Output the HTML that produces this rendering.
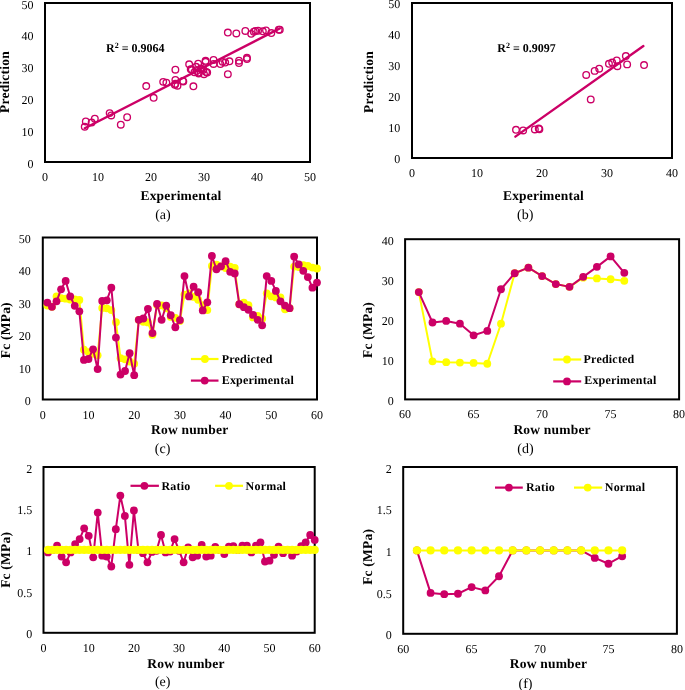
<!DOCTYPE html>
<html><head><meta charset="utf-8"><style>
html,body{margin:0;padding:0;background:#fff;}
body{width:685px;height:690px;overflow:hidden;}
svg{display:block;will-change:transform;}
text{font-family:'Liberation Serif', serif;fill:#000;text-rendering:geometricPrecision;}
.t{font-size:12px;}
.ax{font-size:13.5px;font-weight:bold;letter-spacing:0.2px;}
.lg{font-size:12px;font-weight:bold;letter-spacing:0.2px;}
.r2{font-size:12px;font-weight:bold;}
.sup{font-size:8px;}
.fl{font-size:14px;}
</style></head><body>
<svg width="685" height="690" viewBox="0 0 685 690">
<g>
<rect width="685" height="690" fill="#fff"/>
<rect x="45.00" y="3.00" width="265.00" height="159.00" fill="none" stroke="#000" stroke-width="2"/>
<circle cx="203.47" cy="69.77" r="3.3" fill="none" stroke="#CC0066" stroke-width="1.35"/>
<circle cx="196.58" cy="71.05" r="3.3" fill="none" stroke="#CC0066" stroke-width="1.35"/>
<circle cx="205.59" cy="60.83" r="3.3" fill="none" stroke="#CC0066" stroke-width="1.35"/>
<circle cx="225.20" cy="62.53" r="3.3" fill="none" stroke="#CC0066" stroke-width="1.35"/>
<circle cx="238.98" cy="63.07" r="3.3" fill="none" stroke="#CC0066" stroke-width="1.35"/>
<circle cx="213.54" cy="63.91" r="3.3" fill="none" stroke="#CC0066" stroke-width="1.35"/>
<circle cx="198.17" cy="63.66" r="3.3" fill="none" stroke="#CC0066" stroke-width="1.35"/>
<circle cx="189.16" cy="64.26" r="3.3" fill="none" stroke="#CC0066" stroke-width="1.35"/>
<circle cx="109.66" cy="113.12" r="3.3" fill="none" stroke="#CC0066" stroke-width="1.35"/>
<circle cx="111.25" cy="115.49" r="3.3" fill="none" stroke="#CC0066" stroke-width="1.35"/>
<circle cx="127.15" cy="117.15" r="3.3" fill="none" stroke="#CC0066" stroke-width="1.35"/>
<circle cx="94.82" cy="118.66" r="3.3" fill="none" stroke="#CC0066" stroke-width="1.35"/>
<circle cx="206.12" cy="72.10" r="3.3" fill="none" stroke="#CC0066" stroke-width="1.35"/>
<circle cx="207.18" cy="72.48" r="3.3" fill="none" stroke="#CC0066" stroke-width="1.35"/>
<circle cx="227.85" cy="74.23" r="3.3" fill="none" stroke="#CC0066" stroke-width="1.35"/>
<circle cx="146.23" cy="86.08" r="3.3" fill="none" stroke="#CC0066" stroke-width="1.35"/>
<circle cx="85.81" cy="121.48" r="3.3" fill="none" stroke="#CC0066" stroke-width="1.35"/>
<circle cx="91.64" cy="122.54" r="3.3" fill="none" stroke="#CC0066" stroke-width="1.35"/>
<circle cx="120.79" cy="124.71" r="3.3" fill="none" stroke="#CC0066" stroke-width="1.35"/>
<circle cx="84.75" cy="126.82" r="3.3" fill="none" stroke="#CC0066" stroke-width="1.35"/>
<circle cx="175.38" cy="83.77" r="3.3" fill="none" stroke="#CC0066" stroke-width="1.35"/>
<circle cx="177.50" cy="85.68" r="3.3" fill="none" stroke="#CC0066" stroke-width="1.35"/>
<circle cx="193.40" cy="86.32" r="3.3" fill="none" stroke="#CC0066" stroke-width="1.35"/>
<circle cx="153.65" cy="97.76" r="3.3" fill="none" stroke="#CC0066" stroke-width="1.35"/>
<circle cx="201.35" cy="69.13" r="3.3" fill="none" stroke="#CC0066" stroke-width="1.35"/>
<circle cx="175.38" cy="69.69" r="3.3" fill="none" stroke="#CC0066" stroke-width="1.35"/>
<circle cx="198.70" cy="72.55" r="3.3" fill="none" stroke="#CC0066" stroke-width="1.35"/>
<circle cx="182.80" cy="80.97" r="3.3" fill="none" stroke="#CC0066" stroke-width="1.35"/>
<circle cx="163.19" cy="81.87" r="3.3" fill="none" stroke="#CC0066" stroke-width="1.35"/>
<circle cx="174.85" cy="84.87" r="3.3" fill="none" stroke="#CC0066" stroke-width="1.35"/>
<circle cx="246.93" cy="59.02" r="3.3" fill="none" stroke="#CC0066" stroke-width="1.35"/>
<circle cx="213.54" cy="59.92" r="3.3" fill="none" stroke="#CC0066" stroke-width="1.35"/>
<circle cx="229.44" cy="61.30" r="3.3" fill="none" stroke="#CC0066" stroke-width="1.35"/>
<circle cx="220.43" cy="64.11" r="3.3" fill="none" stroke="#CC0066" stroke-width="1.35"/>
<circle cx="190.75" cy="69.30" r="3.3" fill="none" stroke="#CC0066" stroke-width="1.35"/>
<circle cx="204.00" cy="74.23" r="3.3" fill="none" stroke="#CC0066" stroke-width="1.35"/>
<circle cx="279.79" cy="29.71" r="3.3" fill="none" stroke="#CC0066" stroke-width="1.35"/>
<circle cx="258.06" cy="30.67" r="3.3" fill="none" stroke="#CC0066" stroke-width="1.35"/>
<circle cx="262.83" cy="31.30" r="3.3" fill="none" stroke="#CC0066" stroke-width="1.35"/>
<circle cx="271.31" cy="33.00" r="3.3" fill="none" stroke="#CC0066" stroke-width="1.35"/>
<circle cx="253.82" cy="31.70" r="3.3" fill="none" stroke="#CC0066" stroke-width="1.35"/>
<circle cx="251.17" cy="33.85" r="3.3" fill="none" stroke="#CC0066" stroke-width="1.35"/>
<circle cx="200.82" cy="68.51" r="3.3" fill="none" stroke="#CC0066" stroke-width="1.35"/>
<circle cx="196.05" cy="66.84" r="3.3" fill="none" stroke="#CC0066" stroke-width="1.35"/>
<circle cx="191.81" cy="69.51" r="3.3" fill="none" stroke="#CC0066" stroke-width="1.35"/>
<circle cx="183.33" cy="81.49" r="3.3" fill="none" stroke="#CC0066" stroke-width="1.35"/>
<circle cx="175.38" cy="79.86" r="3.3" fill="none" stroke="#CC0066" stroke-width="1.35"/>
<circle cx="166.37" cy="82.62" r="3.3" fill="none" stroke="#CC0066" stroke-width="1.35"/>
<circle cx="246.93" cy="57.80" r="3.3" fill="none" stroke="#CC0066" stroke-width="1.35"/>
<circle cx="238.98" cy="60.74" r="3.3" fill="none" stroke="#CC0066" stroke-width="1.35"/>
<circle cx="222.55" cy="61.86" r="3.3" fill="none" stroke="#CC0066" stroke-width="1.35"/>
<circle cx="205.59" cy="61.79" r="3.3" fill="none" stroke="#CC0066" stroke-width="1.35"/>
<circle cx="198.70" cy="73.47" r="3.3" fill="none" stroke="#CC0066" stroke-width="1.35"/>
<circle cx="194.46" cy="72.32" r="3.3" fill="none" stroke="#CC0066" stroke-width="1.35"/>
<circle cx="278.73" cy="29.71" r="3.3" fill="none" stroke="#CC0066" stroke-width="1.35"/>
<circle cx="266.01" cy="30.35" r="3.3" fill="none" stroke="#CC0066" stroke-width="1.35"/>
<circle cx="255.41" cy="30.98" r="3.3" fill="none" stroke="#CC0066" stroke-width="1.35"/>
<circle cx="245.34" cy="30.98" r="3.3" fill="none" stroke="#CC0066" stroke-width="1.35"/>
<circle cx="227.85" cy="32.54" r="3.3" fill="none" stroke="#CC0066" stroke-width="1.35"/>
<circle cx="236.33" cy="33.43" r="3.3" fill="none" stroke="#CC0066" stroke-width="1.35"/>
<line x1="84.75" y1="128.29" x2="279.79" y2="28.44" stroke="#CC0066" stroke-width="2.4" stroke-linecap="round"/>
<text x="33.50" y="167.50" text-anchor="end" class="t">0</text>
<text x="33.50" y="135.70" text-anchor="end" class="t">10</text>
<text x="33.50" y="103.90" text-anchor="end" class="t">20</text>
<text x="33.50" y="72.10" text-anchor="end" class="t">30</text>
<text x="33.50" y="40.30" text-anchor="end" class="t">40</text>
<text x="33.50" y="8.50" text-anchor="end" class="t">50</text>
<text x="45.00" y="180.80" text-anchor="middle" class="t">0</text>
<text x="98.00" y="180.80" text-anchor="middle" class="t">10</text>
<text x="151.00" y="180.80" text-anchor="middle" class="t">20</text>
<text x="204.00" y="180.80" text-anchor="middle" class="t">30</text>
<text x="257.00" y="180.80" text-anchor="middle" class="t">40</text>
<text x="310.00" y="180.80" text-anchor="middle" class="t">50</text>
<text x="181.00" y="199.70" text-anchor="middle" class="ax">Experimental</text>
<text transform="translate(9.20,82.00) rotate(-90)" x="0" y="0" text-anchor="middle" class="ax">Prediction</text>
<text x="106.10" y="51.60" text-anchor="start" class="r2">R<tspan class="sup" dy="-3.8">2</tspan><tspan dy="3.8"> = 0.9064</tspan></text>
<text x="162.90" y="218.70" text-anchor="middle" class="fl">(a)</text>
<rect x="412.00" y="3.00" width="260.00" height="155.00" fill="none" stroke="#000" stroke-width="2"/>
<circle cx="586.20" cy="74.92" r="3.3" fill="none" stroke="#CC0066" stroke-width="1.35"/>
<circle cx="538.75" cy="128.55" r="3.3" fill="none" stroke="#CC0066" stroke-width="1.35"/>
<circle cx="539.40" cy="129.17" r="3.3" fill="none" stroke="#CC0066" stroke-width="1.35"/>
<circle cx="534.85" cy="129.48" r="3.3" fill="none" stroke="#CC0066" stroke-width="1.35"/>
<circle cx="516.00" cy="129.79" r="3.3" fill="none" stroke="#CC0066" stroke-width="1.35"/>
<circle cx="523.15" cy="130.41" r="3.3" fill="none" stroke="#CC0066" stroke-width="1.35"/>
<circle cx="590.75" cy="99.41" r="3.3" fill="none" stroke="#CC0066" stroke-width="1.35"/>
<circle cx="616.75" cy="60.35" r="3.3" fill="none" stroke="#CC0066" stroke-width="1.35"/>
<circle cx="625.85" cy="56.01" r="3.3" fill="none" stroke="#CC0066" stroke-width="1.35"/>
<circle cx="612.20" cy="62.52" r="3.3" fill="none" stroke="#CC0066" stroke-width="1.35"/>
<circle cx="599.20" cy="68.72" r="3.3" fill="none" stroke="#CC0066" stroke-width="1.35"/>
<circle cx="594.65" cy="70.89" r="3.3" fill="none" stroke="#CC0066" stroke-width="1.35"/>
<circle cx="608.95" cy="63.76" r="3.3" fill="none" stroke="#CC0066" stroke-width="1.35"/>
<circle cx="627.15" cy="64.38" r="3.3" fill="none" stroke="#CC0066" stroke-width="1.35"/>
<circle cx="644.05" cy="65.00" r="3.3" fill="none" stroke="#CC0066" stroke-width="1.35"/>
<circle cx="617.40" cy="66.24" r="3.3" fill="none" stroke="#CC0066" stroke-width="1.35"/>
<line x1="515.35" y1="136.61" x2="643.40" y2="46.09" stroke="#CC0066" stroke-width="2.4" stroke-linecap="round"/>
<text x="400.30" y="162.70" text-anchor="end" class="t">0</text>
<text x="400.30" y="131.70" text-anchor="end" class="t">10</text>
<text x="400.30" y="100.70" text-anchor="end" class="t">20</text>
<text x="400.30" y="69.70" text-anchor="end" class="t">30</text>
<text x="400.30" y="38.70" text-anchor="end" class="t">40</text>
<text x="400.30" y="7.70" text-anchor="end" class="t">50</text>
<text x="412.00" y="177.00" text-anchor="middle" class="t">0</text>
<text x="477.00" y="177.00" text-anchor="middle" class="t">10</text>
<text x="542.00" y="177.00" text-anchor="middle" class="t">20</text>
<text x="607.00" y="177.00" text-anchor="middle" class="t">30</text>
<text x="672.00" y="177.00" text-anchor="middle" class="t">40</text>
<text x="543.50" y="199.60" text-anchor="middle" class="ax">Experimental</text>
<text transform="translate(373.20,82.00) rotate(-90)" x="0" y="0" text-anchor="middle" class="ax">Prediction</text>
<text x="497.30" y="51.60" text-anchor="start" class="r2">R<tspan class="sup" dy="-3.8">2</tspan><tspan dy="3.8"> = 0.9097</tspan></text>
<text x="525.20" y="218.80" text-anchor="middle" class="fl">(b)</text>
<rect x="42.80" y="237.50" width="274.20" height="162.00" fill="none" stroke="#000" stroke-width="2"/>
<polyline points="47.37,305.53 51.94,306.84 56.51,296.42 61.08,298.15 65.65,298.70 70.22,299.56 74.79,299.31 79.36,299.92 83.93,349.69 88.50,352.12 93.07,353.80 97.64,355.34 102.21,307.90 106.78,308.29 111.35,310.08 115.92,322.14 120.49,358.21 125.06,359.30 129.63,361.51 134.20,363.66 138.77,319.80 143.34,321.74 147.91,322.39 152.48,334.74 157.05,304.88 161.62,305.45 166.19,308.36 170.76,316.94 175.33,317.86 179.90,320.91 184.47,294.57 189.04,293.38 193.61,296.90 198.18,299.76 202.75,305.05 207.32,310.08 211.89,266.02 216.46,264.69 221.03,266.34 225.60,268.07 230.17,266.74 234.74,267.79 239.31,304.24 243.88,302.54 248.45,305.26 253.02,317.47 257.59,315.81 262.16,318.63 266.73,293.34 271.30,296.33 275.87,297.47 280.44,297.40 285.01,309.30 289.58,308.13 294.15,266.62 298.72,267.09 303.29,265.08 307.86,266.01 312.43,267.60 317.00,268.50" fill="none" stroke="#FFFF00" stroke-width="2" stroke-linejoin="round" stroke-linecap="round"/>
<circle cx="47.37" cy="305.53" r="3.9" fill="#FFFF00"/>
<circle cx="51.94" cy="306.84" r="3.9" fill="#FFFF00"/>
<circle cx="56.51" cy="296.42" r="3.9" fill="#FFFF00"/>
<circle cx="61.08" cy="298.15" r="3.9" fill="#FFFF00"/>
<circle cx="65.65" cy="298.70" r="3.9" fill="#FFFF00"/>
<circle cx="70.22" cy="299.56" r="3.9" fill="#FFFF00"/>
<circle cx="74.79" cy="299.31" r="3.9" fill="#FFFF00"/>
<circle cx="79.36" cy="299.92" r="3.9" fill="#FFFF00"/>
<circle cx="83.93" cy="349.69" r="3.9" fill="#FFFF00"/>
<circle cx="88.50" cy="352.12" r="3.9" fill="#FFFF00"/>
<circle cx="93.07" cy="353.80" r="3.9" fill="#FFFF00"/>
<circle cx="97.64" cy="355.34" r="3.9" fill="#FFFF00"/>
<circle cx="102.21" cy="307.90" r="3.9" fill="#FFFF00"/>
<circle cx="106.78" cy="308.29" r="3.9" fill="#FFFF00"/>
<circle cx="111.35" cy="310.08" r="3.9" fill="#FFFF00"/>
<circle cx="115.92" cy="322.14" r="3.9" fill="#FFFF00"/>
<circle cx="120.49" cy="358.21" r="3.9" fill="#FFFF00"/>
<circle cx="125.06" cy="359.30" r="3.9" fill="#FFFF00"/>
<circle cx="129.63" cy="361.51" r="3.9" fill="#FFFF00"/>
<circle cx="134.20" cy="363.66" r="3.9" fill="#FFFF00"/>
<circle cx="138.77" cy="319.80" r="3.9" fill="#FFFF00"/>
<circle cx="143.34" cy="321.74" r="3.9" fill="#FFFF00"/>
<circle cx="147.91" cy="322.39" r="3.9" fill="#FFFF00"/>
<circle cx="152.48" cy="334.74" r="3.9" fill="#FFFF00"/>
<circle cx="157.05" cy="304.88" r="3.9" fill="#FFFF00"/>
<circle cx="161.62" cy="305.45" r="3.9" fill="#FFFF00"/>
<circle cx="166.19" cy="308.36" r="3.9" fill="#FFFF00"/>
<circle cx="170.76" cy="316.94" r="3.9" fill="#FFFF00"/>
<circle cx="175.33" cy="317.86" r="3.9" fill="#FFFF00"/>
<circle cx="179.90" cy="320.91" r="3.9" fill="#FFFF00"/>
<circle cx="184.47" cy="294.57" r="3.9" fill="#FFFF00"/>
<circle cx="189.04" cy="293.38" r="3.9" fill="#FFFF00"/>
<circle cx="193.61" cy="296.90" r="3.9" fill="#FFFF00"/>
<circle cx="198.18" cy="299.76" r="3.9" fill="#FFFF00"/>
<circle cx="202.75" cy="305.05" r="3.9" fill="#FFFF00"/>
<circle cx="207.32" cy="310.08" r="3.9" fill="#FFFF00"/>
<circle cx="211.89" cy="266.02" r="3.9" fill="#FFFF00"/>
<circle cx="216.46" cy="264.69" r="3.9" fill="#FFFF00"/>
<circle cx="221.03" cy="266.34" r="3.9" fill="#FFFF00"/>
<circle cx="225.60" cy="268.07" r="3.9" fill="#FFFF00"/>
<circle cx="230.17" cy="266.74" r="3.9" fill="#FFFF00"/>
<circle cx="234.74" cy="267.79" r="3.9" fill="#FFFF00"/>
<circle cx="239.31" cy="304.24" r="3.9" fill="#FFFF00"/>
<circle cx="243.88" cy="302.54" r="3.9" fill="#FFFF00"/>
<circle cx="248.45" cy="305.26" r="3.9" fill="#FFFF00"/>
<circle cx="253.02" cy="317.47" r="3.9" fill="#FFFF00"/>
<circle cx="257.59" cy="315.81" r="3.9" fill="#FFFF00"/>
<circle cx="262.16" cy="318.63" r="3.9" fill="#FFFF00"/>
<circle cx="266.73" cy="293.34" r="3.9" fill="#FFFF00"/>
<circle cx="271.30" cy="296.33" r="3.9" fill="#FFFF00"/>
<circle cx="275.87" cy="297.47" r="3.9" fill="#FFFF00"/>
<circle cx="280.44" cy="297.40" r="3.9" fill="#FFFF00"/>
<circle cx="285.01" cy="309.30" r="3.9" fill="#FFFF00"/>
<circle cx="289.58" cy="308.13" r="3.9" fill="#FFFF00"/>
<circle cx="294.15" cy="266.62" r="3.9" fill="#FFFF00"/>
<circle cx="298.72" cy="267.09" r="3.9" fill="#FFFF00"/>
<circle cx="303.29" cy="265.08" r="3.9" fill="#FFFF00"/>
<circle cx="307.86" cy="266.01" r="3.9" fill="#FFFF00"/>
<circle cx="312.43" cy="267.60" r="3.9" fill="#FFFF00"/>
<circle cx="317.00" cy="268.50" r="3.9" fill="#FFFF00"/>
<polyline points="47.37,302.62 51.94,306.84 56.51,301.33 61.08,289.34 65.65,280.92 70.22,296.47 74.79,305.86 79.36,311.37 83.93,359.97 88.50,359.00 93.07,349.28 97.64,369.04 102.21,301.00 106.78,300.36 111.35,287.72 115.92,337.62 120.49,374.55 125.06,370.99 129.63,353.17 134.20,375.20 138.77,319.80 143.34,318.50 147.91,308.78 152.48,333.08 157.05,303.92 161.62,319.80 166.19,305.54 170.76,315.26 175.33,327.25 179.90,320.12 184.47,276.06 189.04,296.47 193.61,286.75 198.18,292.26 202.75,310.40 207.32,302.30 211.89,255.97 216.46,269.25 221.03,266.34 225.60,261.15 230.17,271.84 234.74,273.46 239.31,304.24 243.88,307.16 248.45,309.75 253.02,314.94 257.59,319.80 262.16,325.30 266.73,276.06 271.30,280.92 275.87,290.96 280.44,301.33 285.01,305.54 289.58,308.13 294.15,256.62 298.72,264.39 303.29,270.87 307.86,277.03 312.43,287.72 317.00,282.54" fill="none" stroke="#CC0066" stroke-width="2" stroke-linejoin="round" stroke-linecap="round"/>
<circle cx="47.37" cy="302.62" r="3.9" fill="#CC0066"/>
<circle cx="51.94" cy="306.84" r="3.9" fill="#CC0066"/>
<circle cx="56.51" cy="301.33" r="3.9" fill="#CC0066"/>
<circle cx="61.08" cy="289.34" r="3.9" fill="#CC0066"/>
<circle cx="65.65" cy="280.92" r="3.9" fill="#CC0066"/>
<circle cx="70.22" cy="296.47" r="3.9" fill="#CC0066"/>
<circle cx="74.79" cy="305.86" r="3.9" fill="#CC0066"/>
<circle cx="79.36" cy="311.37" r="3.9" fill="#CC0066"/>
<circle cx="83.93" cy="359.97" r="3.9" fill="#CC0066"/>
<circle cx="88.50" cy="359.00" r="3.9" fill="#CC0066"/>
<circle cx="93.07" cy="349.28" r="3.9" fill="#CC0066"/>
<circle cx="97.64" cy="369.04" r="3.9" fill="#CC0066"/>
<circle cx="102.21" cy="301.00" r="3.9" fill="#CC0066"/>
<circle cx="106.78" cy="300.36" r="3.9" fill="#CC0066"/>
<circle cx="111.35" cy="287.72" r="3.9" fill="#CC0066"/>
<circle cx="115.92" cy="337.62" r="3.9" fill="#CC0066"/>
<circle cx="120.49" cy="374.55" r="3.9" fill="#CC0066"/>
<circle cx="125.06" cy="370.99" r="3.9" fill="#CC0066"/>
<circle cx="129.63" cy="353.17" r="3.9" fill="#CC0066"/>
<circle cx="134.20" cy="375.20" r="3.9" fill="#CC0066"/>
<circle cx="138.77" cy="319.80" r="3.9" fill="#CC0066"/>
<circle cx="143.34" cy="318.50" r="3.9" fill="#CC0066"/>
<circle cx="147.91" cy="308.78" r="3.9" fill="#CC0066"/>
<circle cx="152.48" cy="333.08" r="3.9" fill="#CC0066"/>
<circle cx="157.05" cy="303.92" r="3.9" fill="#CC0066"/>
<circle cx="161.62" cy="319.80" r="3.9" fill="#CC0066"/>
<circle cx="166.19" cy="305.54" r="3.9" fill="#CC0066"/>
<circle cx="170.76" cy="315.26" r="3.9" fill="#CC0066"/>
<circle cx="175.33" cy="327.25" r="3.9" fill="#CC0066"/>
<circle cx="179.90" cy="320.12" r="3.9" fill="#CC0066"/>
<circle cx="184.47" cy="276.06" r="3.9" fill="#CC0066"/>
<circle cx="189.04" cy="296.47" r="3.9" fill="#CC0066"/>
<circle cx="193.61" cy="286.75" r="3.9" fill="#CC0066"/>
<circle cx="198.18" cy="292.26" r="3.9" fill="#CC0066"/>
<circle cx="202.75" cy="310.40" r="3.9" fill="#CC0066"/>
<circle cx="207.32" cy="302.30" r="3.9" fill="#CC0066"/>
<circle cx="211.89" cy="255.97" r="3.9" fill="#CC0066"/>
<circle cx="216.46" cy="269.25" r="3.9" fill="#CC0066"/>
<circle cx="221.03" cy="266.34" r="3.9" fill="#CC0066"/>
<circle cx="225.60" cy="261.15" r="3.9" fill="#CC0066"/>
<circle cx="230.17" cy="271.84" r="3.9" fill="#CC0066"/>
<circle cx="234.74" cy="273.46" r="3.9" fill="#CC0066"/>
<circle cx="239.31" cy="304.24" r="3.9" fill="#CC0066"/>
<circle cx="243.88" cy="307.16" r="3.9" fill="#CC0066"/>
<circle cx="248.45" cy="309.75" r="3.9" fill="#CC0066"/>
<circle cx="253.02" cy="314.94" r="3.9" fill="#CC0066"/>
<circle cx="257.59" cy="319.80" r="3.9" fill="#CC0066"/>
<circle cx="262.16" cy="325.30" r="3.9" fill="#CC0066"/>
<circle cx="266.73" cy="276.06" r="3.9" fill="#CC0066"/>
<circle cx="271.30" cy="280.92" r="3.9" fill="#CC0066"/>
<circle cx="275.87" cy="290.96" r="3.9" fill="#CC0066"/>
<circle cx="280.44" cy="301.33" r="3.9" fill="#CC0066"/>
<circle cx="285.01" cy="305.54" r="3.9" fill="#CC0066"/>
<circle cx="289.58" cy="308.13" r="3.9" fill="#CC0066"/>
<circle cx="294.15" cy="256.62" r="3.9" fill="#CC0066"/>
<circle cx="298.72" cy="264.39" r="3.9" fill="#CC0066"/>
<circle cx="303.29" cy="270.87" r="3.9" fill="#CC0066"/>
<circle cx="307.86" cy="277.03" r="3.9" fill="#CC0066"/>
<circle cx="312.43" cy="287.72" r="3.9" fill="#CC0066"/>
<circle cx="317.00" cy="282.54" r="3.9" fill="#CC0066"/>
<text x="30.80" y="405.00" text-anchor="end" class="t">0</text>
<text x="30.80" y="372.60" text-anchor="end" class="t">10</text>
<text x="30.80" y="340.20" text-anchor="end" class="t">20</text>
<text x="30.80" y="307.80" text-anchor="end" class="t">30</text>
<text x="30.80" y="275.40" text-anchor="end" class="t">40</text>
<text x="30.80" y="243.00" text-anchor="end" class="t">50</text>
<text x="42.80" y="418.50" text-anchor="middle" class="t">0</text>
<text x="88.50" y="418.50" text-anchor="middle" class="t">10</text>
<text x="134.20" y="418.50" text-anchor="middle" class="t">20</text>
<text x="179.90" y="418.50" text-anchor="middle" class="t">30</text>
<text x="225.60" y="418.50" text-anchor="middle" class="t">40</text>
<text x="271.30" y="418.50" text-anchor="middle" class="t">50</text>
<text x="317.00" y="418.50" text-anchor="middle" class="t">60</text>
<text x="189.70" y="433.90" text-anchor="middle" class="ax">Row number</text>
<text transform="translate(9.80,330.20) rotate(-90)" x="0" y="0" text-anchor="middle" class="ax">Fc (MPa)</text>
<text x="162.60" y="453.00" text-anchor="middle" class="fl">(c)</text>
<line x1="190.90" y1="359.00" x2="218.50" y2="359.00" stroke="#FFFF00" stroke-width="2.2" stroke-linecap="butt"/>
<circle cx="204.90" cy="359.00" r="3.9" fill="#FFFF00"/>
<text x="221.70" y="362.90" text-anchor="start" class="lg">Predicted</text>
<line x1="190.90" y1="380.60" x2="218.50" y2="380.60" stroke="#CC0066" stroke-width="2.2" stroke-linecap="butt"/>
<circle cx="204.70" cy="380.60" r="3.9" fill="#CC0066"/>
<text x="221.70" y="383.90" text-anchor="start" class="lg">Experimental</text>
<rect x="405.10" y="239.20" width="274.00" height="160.20" fill="none" stroke="#000" stroke-width="2"/>
<polyline points="418.80,292.07 432.50,361.35 446.20,362.15 459.90,362.55 473.60,362.95 487.30,363.76 501.00,323.71 514.70,273.24 528.40,267.64 542.10,276.05 555.80,284.06 569.50,286.86 583.20,277.65 596.90,278.45 610.60,279.25 624.30,280.85" fill="none" stroke="#FFFF00" stroke-width="2" stroke-linejoin="round" stroke-linecap="round"/>
<circle cx="418.80" cy="292.07" r="3.9" fill="#FFFF00"/>
<circle cx="432.50" cy="361.35" r="3.9" fill="#FFFF00"/>
<circle cx="446.20" cy="362.15" r="3.9" fill="#FFFF00"/>
<circle cx="459.90" cy="362.55" r="3.9" fill="#FFFF00"/>
<circle cx="473.60" cy="362.95" r="3.9" fill="#FFFF00"/>
<circle cx="487.30" cy="363.76" r="3.9" fill="#FFFF00"/>
<circle cx="501.00" cy="323.71" r="3.9" fill="#FFFF00"/>
<circle cx="514.70" cy="273.24" r="3.9" fill="#FFFF00"/>
<circle cx="528.40" cy="267.64" r="3.9" fill="#FFFF00"/>
<circle cx="542.10" cy="276.05" r="3.9" fill="#FFFF00"/>
<circle cx="555.80" cy="284.06" r="3.9" fill="#FFFF00"/>
<circle cx="569.50" cy="286.86" r="3.9" fill="#FFFF00"/>
<circle cx="583.20" cy="277.65" r="3.9" fill="#FFFF00"/>
<circle cx="596.90" cy="278.45" r="3.9" fill="#FFFF00"/>
<circle cx="610.60" cy="279.25" r="3.9" fill="#FFFF00"/>
<circle cx="624.30" cy="280.85" r="3.9" fill="#FFFF00"/>
<polyline points="418.80,292.07 432.50,322.50 446.20,320.90 459.90,323.71 473.60,335.32 487.30,330.91 501.00,289.26 514.70,273.24 528.40,267.64 542.10,276.05 555.80,284.06 569.50,286.86 583.20,276.85 596.90,266.83 610.60,256.42 624.30,272.84" fill="none" stroke="#CC0066" stroke-width="2" stroke-linejoin="round" stroke-linecap="round"/>
<circle cx="418.80" cy="292.07" r="3.9" fill="#CC0066"/>
<circle cx="432.50" cy="322.50" r="3.9" fill="#CC0066"/>
<circle cx="446.20" cy="320.90" r="3.9" fill="#CC0066"/>
<circle cx="459.90" cy="323.71" r="3.9" fill="#CC0066"/>
<circle cx="473.60" cy="335.32" r="3.9" fill="#CC0066"/>
<circle cx="487.30" cy="330.91" r="3.9" fill="#CC0066"/>
<circle cx="501.00" cy="289.26" r="3.9" fill="#CC0066"/>
<circle cx="514.70" cy="273.24" r="3.9" fill="#CC0066"/>
<circle cx="528.40" cy="267.64" r="3.9" fill="#CC0066"/>
<circle cx="542.10" cy="276.05" r="3.9" fill="#CC0066"/>
<circle cx="555.80" cy="284.06" r="3.9" fill="#CC0066"/>
<circle cx="569.50" cy="286.86" r="3.9" fill="#CC0066"/>
<circle cx="583.20" cy="276.85" r="3.9" fill="#CC0066"/>
<circle cx="596.90" cy="266.83" r="3.9" fill="#CC0066"/>
<circle cx="610.60" cy="256.42" r="3.9" fill="#CC0066"/>
<circle cx="624.30" cy="272.84" r="3.9" fill="#CC0066"/>
<text x="393.70" y="404.90" text-anchor="end" class="t">0</text>
<text x="393.70" y="364.85" text-anchor="end" class="t">10</text>
<text x="393.70" y="324.80" text-anchor="end" class="t">20</text>
<text x="393.70" y="284.75" text-anchor="end" class="t">30</text>
<text x="393.70" y="244.70" text-anchor="end" class="t">40</text>
<text x="405.10" y="418.30" text-anchor="middle" class="t">60</text>
<text x="473.60" y="418.30" text-anchor="middle" class="t">65</text>
<text x="542.10" y="418.30" text-anchor="middle" class="t">70</text>
<text x="610.60" y="418.30" text-anchor="middle" class="t">75</text>
<text x="679.10" y="418.30" text-anchor="middle" class="t">80</text>
<text x="552.10" y="433.60" text-anchor="middle" class="ax">Row number</text>
<text transform="translate(372.40,330.00) rotate(-90)" x="0" y="0" text-anchor="middle" class="ax">Fc (MPa)</text>
<text x="525.40" y="453.20" text-anchor="middle" class="fl">(d)</text>
<line x1="553.20" y1="359.50" x2="581.20" y2="359.50" stroke="#FFFF00" stroke-width="2.2" stroke-linecap="butt"/>
<circle cx="567.00" cy="359.50" r="3.9" fill="#FFFF00"/>
<text x="583.60" y="363.00" text-anchor="start" class="lg">Predicted</text>
<line x1="553.20" y1="381.40" x2="581.20" y2="381.40" stroke="#CC0066" stroke-width="2.2" stroke-linecap="butt"/>
<circle cx="567.00" cy="381.40" r="3.9" fill="#CC0066"/>
<text x="584.20" y="384.40" text-anchor="start" class="lg">Experimental</text>
<rect x="43.50" y="467.00" width="271.20" height="165.80" fill="none" stroke="#000" stroke-width="2"/>
<polyline points="48.02,552.39 52.54,549.90 57.06,545.75 61.58,556.53 66.10,562.34 70.62,552.39 75.14,544.10 79.66,539.12 84.18,528.35 88.70,535.81 93.22,557.36 97.74,512.60 102.26,555.70 106.78,556.53 111.30,566.48 115.82,529.17 120.34,495.60 124.86,515.91 129.38,564.82 133.90,510.52 138.42,549.90 142.94,553.22 147.46,562.34 151.98,551.97 156.50,550.73 161.02,534.98 165.54,552.39 170.06,551.56 174.58,539.12 179.10,550.73 183.62,562.34 188.14,547.41 192.66,557.36 197.18,555.70 201.70,544.93 206.22,556.53 210.74,555.70 215.26,547.00 219.78,549.90 224.30,554.04 228.82,546.58 233.34,546.17 237.86,549.90 242.38,545.75 246.90,545.75 251.42,552.39 255.94,545.75 260.46,542.44 264.98,561.51 269.50,560.68 274.02,554.87 278.54,546.58 283.06,553.22 287.58,549.90 292.10,555.70 296.62,551.56 301.14,546.17 305.66,542.44 310.18,534.98 314.70,539.95" fill="none" stroke="#CC0066" stroke-width="2" stroke-linejoin="round" stroke-linecap="round"/>
<circle cx="48.02" cy="552.39" r="3.9" fill="#CC0066"/>
<circle cx="52.54" cy="549.90" r="3.9" fill="#CC0066"/>
<circle cx="57.06" cy="545.75" r="3.9" fill="#CC0066"/>
<circle cx="61.58" cy="556.53" r="3.9" fill="#CC0066"/>
<circle cx="66.10" cy="562.34" r="3.9" fill="#CC0066"/>
<circle cx="70.62" cy="552.39" r="3.9" fill="#CC0066"/>
<circle cx="75.14" cy="544.10" r="3.9" fill="#CC0066"/>
<circle cx="79.66" cy="539.12" r="3.9" fill="#CC0066"/>
<circle cx="84.18" cy="528.35" r="3.9" fill="#CC0066"/>
<circle cx="88.70" cy="535.81" r="3.9" fill="#CC0066"/>
<circle cx="93.22" cy="557.36" r="3.9" fill="#CC0066"/>
<circle cx="97.74" cy="512.60" r="3.9" fill="#CC0066"/>
<circle cx="102.26" cy="555.70" r="3.9" fill="#CC0066"/>
<circle cx="106.78" cy="556.53" r="3.9" fill="#CC0066"/>
<circle cx="111.30" cy="566.48" r="3.9" fill="#CC0066"/>
<circle cx="115.82" cy="529.17" r="3.9" fill="#CC0066"/>
<circle cx="120.34" cy="495.60" r="3.9" fill="#CC0066"/>
<circle cx="124.86" cy="515.91" r="3.9" fill="#CC0066"/>
<circle cx="129.38" cy="564.82" r="3.9" fill="#CC0066"/>
<circle cx="133.90" cy="510.52" r="3.9" fill="#CC0066"/>
<circle cx="138.42" cy="549.90" r="3.9" fill="#CC0066"/>
<circle cx="142.94" cy="553.22" r="3.9" fill="#CC0066"/>
<circle cx="147.46" cy="562.34" r="3.9" fill="#CC0066"/>
<circle cx="151.98" cy="551.97" r="3.9" fill="#CC0066"/>
<circle cx="156.50" cy="550.73" r="3.9" fill="#CC0066"/>
<circle cx="161.02" cy="534.98" r="3.9" fill="#CC0066"/>
<circle cx="165.54" cy="552.39" r="3.9" fill="#CC0066"/>
<circle cx="170.06" cy="551.56" r="3.9" fill="#CC0066"/>
<circle cx="174.58" cy="539.12" r="3.9" fill="#CC0066"/>
<circle cx="179.10" cy="550.73" r="3.9" fill="#CC0066"/>
<circle cx="183.62" cy="562.34" r="3.9" fill="#CC0066"/>
<circle cx="188.14" cy="547.41" r="3.9" fill="#CC0066"/>
<circle cx="192.66" cy="557.36" r="3.9" fill="#CC0066"/>
<circle cx="197.18" cy="555.70" r="3.9" fill="#CC0066"/>
<circle cx="201.70" cy="544.93" r="3.9" fill="#CC0066"/>
<circle cx="206.22" cy="556.53" r="3.9" fill="#CC0066"/>
<circle cx="210.74" cy="555.70" r="3.9" fill="#CC0066"/>
<circle cx="215.26" cy="547.00" r="3.9" fill="#CC0066"/>
<circle cx="219.78" cy="549.90" r="3.9" fill="#CC0066"/>
<circle cx="224.30" cy="554.04" r="3.9" fill="#CC0066"/>
<circle cx="228.82" cy="546.58" r="3.9" fill="#CC0066"/>
<circle cx="233.34" cy="546.17" r="3.9" fill="#CC0066"/>
<circle cx="237.86" cy="549.90" r="3.9" fill="#CC0066"/>
<circle cx="242.38" cy="545.75" r="3.9" fill="#CC0066"/>
<circle cx="246.90" cy="545.75" r="3.9" fill="#CC0066"/>
<circle cx="251.42" cy="552.39" r="3.9" fill="#CC0066"/>
<circle cx="255.94" cy="545.75" r="3.9" fill="#CC0066"/>
<circle cx="260.46" cy="542.44" r="3.9" fill="#CC0066"/>
<circle cx="264.98" cy="561.51" r="3.9" fill="#CC0066"/>
<circle cx="269.50" cy="560.68" r="3.9" fill="#CC0066"/>
<circle cx="274.02" cy="554.87" r="3.9" fill="#CC0066"/>
<circle cx="278.54" cy="546.58" r="3.9" fill="#CC0066"/>
<circle cx="283.06" cy="553.22" r="3.9" fill="#CC0066"/>
<circle cx="287.58" cy="549.90" r="3.9" fill="#CC0066"/>
<circle cx="292.10" cy="555.70" r="3.9" fill="#CC0066"/>
<circle cx="296.62" cy="551.56" r="3.9" fill="#CC0066"/>
<circle cx="301.14" cy="546.17" r="3.9" fill="#CC0066"/>
<circle cx="305.66" cy="542.44" r="3.9" fill="#CC0066"/>
<circle cx="310.18" cy="534.98" r="3.9" fill="#CC0066"/>
<circle cx="314.70" cy="539.95" r="3.9" fill="#CC0066"/>
<polyline points="48.02,549.90 52.54,549.90 57.06,549.90 61.58,549.90 66.10,549.90 70.62,549.90 75.14,549.90 79.66,549.90 84.18,549.90 88.70,549.90 93.22,549.90 97.74,549.90 102.26,549.90 106.78,549.90 111.30,549.90 115.82,549.90 120.34,549.90 124.86,549.90 129.38,549.90 133.90,549.90 138.42,549.90 142.94,549.90 147.46,549.90 151.98,549.90 156.50,549.90 161.02,549.90 165.54,549.90 170.06,549.90 174.58,549.90 179.10,549.90 183.62,549.90 188.14,549.90 192.66,549.90 197.18,549.90 201.70,549.90 206.22,549.90 210.74,549.90 215.26,549.90 219.78,549.90 224.30,549.90 228.82,549.90 233.34,549.90 237.86,549.90 242.38,549.90 246.90,549.90 251.42,549.90 255.94,549.90 260.46,549.90 264.98,549.90 269.50,549.90 274.02,549.90 278.54,549.90 283.06,549.90 287.58,549.90 292.10,549.90 296.62,549.90 301.14,549.90 305.66,549.90 310.18,549.90 314.70,549.90" fill="none" stroke="#FFFF00" stroke-width="2" stroke-linejoin="round" stroke-linecap="round"/>
<circle cx="48.02" cy="549.90" r="4.1" fill="#FFFF00"/>
<circle cx="52.54" cy="549.90" r="4.1" fill="#FFFF00"/>
<circle cx="57.06" cy="549.90" r="4.1" fill="#FFFF00"/>
<circle cx="61.58" cy="549.90" r="4.1" fill="#FFFF00"/>
<circle cx="66.10" cy="549.90" r="4.1" fill="#FFFF00"/>
<circle cx="70.62" cy="549.90" r="4.1" fill="#FFFF00"/>
<circle cx="75.14" cy="549.90" r="4.1" fill="#FFFF00"/>
<circle cx="79.66" cy="549.90" r="4.1" fill="#FFFF00"/>
<circle cx="84.18" cy="549.90" r="4.1" fill="#FFFF00"/>
<circle cx="88.70" cy="549.90" r="4.1" fill="#FFFF00"/>
<circle cx="93.22" cy="549.90" r="4.1" fill="#FFFF00"/>
<circle cx="97.74" cy="549.90" r="4.1" fill="#FFFF00"/>
<circle cx="102.26" cy="549.90" r="4.1" fill="#FFFF00"/>
<circle cx="106.78" cy="549.90" r="4.1" fill="#FFFF00"/>
<circle cx="111.30" cy="549.90" r="4.1" fill="#FFFF00"/>
<circle cx="115.82" cy="549.90" r="4.1" fill="#FFFF00"/>
<circle cx="120.34" cy="549.90" r="4.1" fill="#FFFF00"/>
<circle cx="124.86" cy="549.90" r="4.1" fill="#FFFF00"/>
<circle cx="129.38" cy="549.90" r="4.1" fill="#FFFF00"/>
<circle cx="133.90" cy="549.90" r="4.1" fill="#FFFF00"/>
<circle cx="138.42" cy="549.90" r="4.1" fill="#FFFF00"/>
<circle cx="142.94" cy="549.90" r="4.1" fill="#FFFF00"/>
<circle cx="147.46" cy="549.90" r="4.1" fill="#FFFF00"/>
<circle cx="151.98" cy="549.90" r="4.1" fill="#FFFF00"/>
<circle cx="156.50" cy="549.90" r="4.1" fill="#FFFF00"/>
<circle cx="161.02" cy="549.90" r="4.1" fill="#FFFF00"/>
<circle cx="165.54" cy="549.90" r="4.1" fill="#FFFF00"/>
<circle cx="170.06" cy="549.90" r="4.1" fill="#FFFF00"/>
<circle cx="174.58" cy="549.90" r="4.1" fill="#FFFF00"/>
<circle cx="179.10" cy="549.90" r="4.1" fill="#FFFF00"/>
<circle cx="183.62" cy="549.90" r="4.1" fill="#FFFF00"/>
<circle cx="188.14" cy="549.90" r="4.1" fill="#FFFF00"/>
<circle cx="192.66" cy="549.90" r="4.1" fill="#FFFF00"/>
<circle cx="197.18" cy="549.90" r="4.1" fill="#FFFF00"/>
<circle cx="201.70" cy="549.90" r="4.1" fill="#FFFF00"/>
<circle cx="206.22" cy="549.90" r="4.1" fill="#FFFF00"/>
<circle cx="210.74" cy="549.90" r="4.1" fill="#FFFF00"/>
<circle cx="215.26" cy="549.90" r="4.1" fill="#FFFF00"/>
<circle cx="219.78" cy="549.90" r="4.1" fill="#FFFF00"/>
<circle cx="224.30" cy="549.90" r="4.1" fill="#FFFF00"/>
<circle cx="228.82" cy="549.90" r="4.1" fill="#FFFF00"/>
<circle cx="233.34" cy="549.90" r="4.1" fill="#FFFF00"/>
<circle cx="237.86" cy="549.90" r="4.1" fill="#FFFF00"/>
<circle cx="242.38" cy="549.90" r="4.1" fill="#FFFF00"/>
<circle cx="246.90" cy="549.90" r="4.1" fill="#FFFF00"/>
<circle cx="251.42" cy="549.90" r="4.1" fill="#FFFF00"/>
<circle cx="255.94" cy="549.90" r="4.1" fill="#FFFF00"/>
<circle cx="260.46" cy="549.90" r="4.1" fill="#FFFF00"/>
<circle cx="264.98" cy="549.90" r="4.1" fill="#FFFF00"/>
<circle cx="269.50" cy="549.90" r="4.1" fill="#FFFF00"/>
<circle cx="274.02" cy="549.90" r="4.1" fill="#FFFF00"/>
<circle cx="278.54" cy="549.90" r="4.1" fill="#FFFF00"/>
<circle cx="283.06" cy="549.90" r="4.1" fill="#FFFF00"/>
<circle cx="287.58" cy="549.90" r="4.1" fill="#FFFF00"/>
<circle cx="292.10" cy="549.90" r="4.1" fill="#FFFF00"/>
<circle cx="296.62" cy="549.90" r="4.1" fill="#FFFF00"/>
<circle cx="301.14" cy="549.90" r="4.1" fill="#FFFF00"/>
<circle cx="305.66" cy="549.90" r="4.1" fill="#FFFF00"/>
<circle cx="310.18" cy="549.90" r="4.1" fill="#FFFF00"/>
<circle cx="314.70" cy="549.90" r="4.1" fill="#FFFF00"/>
<text x="32.30" y="638.30" text-anchor="end" class="t">0</text>
<text x="32.30" y="596.85" text-anchor="end" class="t">0.5</text>
<text x="32.30" y="555.40" text-anchor="end" class="t">1</text>
<text x="32.30" y="513.95" text-anchor="end" class="t">1.5</text>
<text x="32.30" y="472.50" text-anchor="end" class="t">2</text>
<text x="43.50" y="651.80" text-anchor="middle" class="t">0</text>
<text x="88.70" y="651.80" text-anchor="middle" class="t">10</text>
<text x="133.90" y="651.80" text-anchor="middle" class="t">20</text>
<text x="179.10" y="651.80" text-anchor="middle" class="t">30</text>
<text x="224.30" y="651.80" text-anchor="middle" class="t">40</text>
<text x="269.50" y="651.80" text-anchor="middle" class="t">50</text>
<text x="314.70" y="651.80" text-anchor="middle" class="t">60</text>
<text x="186.00" y="668.20" text-anchor="middle" class="ax">Row number</text>
<text transform="translate(10.40,559.90) rotate(-90)" x="0" y="0" text-anchor="middle" class="ax">Fc (MPa)</text>
<text x="162.70" y="686.20" text-anchor="middle" class="fl">(e)</text>
<line x1="130.50" y1="485.80" x2="158.90" y2="485.80" stroke="#CC0066" stroke-width="2.2" stroke-linecap="butt"/>
<circle cx="144.40" cy="485.80" r="3.9" fill="#CC0066"/>
<text x="161.50" y="489.70" text-anchor="start" class="lg">Ratio</text>
<line x1="215.10" y1="485.80" x2="243.00" y2="485.80" stroke="#FFFF00" stroke-width="2.2" stroke-linecap="butt"/>
<circle cx="229.00" cy="485.80" r="3.9" fill="#FFFF00"/>
<text x="245.60" y="489.70" text-anchor="start" class="lg">Normal</text>
<rect x="403.20" y="467.00" width="273.70" height="166.80" fill="none" stroke="#000" stroke-width="2"/>
<polyline points="416.88,550.40 430.57,592.93 444.25,594.18 457.94,593.77 471.62,587.10 485.31,590.43 499.00,576.25 512.68,550.40 526.37,550.40 540.05,550.40 553.74,550.40 567.42,550.40 581.11,550.40 594.79,557.91 608.47,563.74 622.16,556.24" fill="none" stroke="#CC0066" stroke-width="2" stroke-linejoin="round" stroke-linecap="round"/>
<circle cx="416.88" cy="550.40" r="3.9" fill="#CC0066"/>
<circle cx="430.57" cy="592.93" r="3.9" fill="#CC0066"/>
<circle cx="444.25" cy="594.18" r="3.9" fill="#CC0066"/>
<circle cx="457.94" cy="593.77" r="3.9" fill="#CC0066"/>
<circle cx="471.62" cy="587.10" r="3.9" fill="#CC0066"/>
<circle cx="485.31" cy="590.43" r="3.9" fill="#CC0066"/>
<circle cx="499.00" cy="576.25" r="3.9" fill="#CC0066"/>
<circle cx="512.68" cy="550.40" r="3.9" fill="#CC0066"/>
<circle cx="526.37" cy="550.40" r="3.9" fill="#CC0066"/>
<circle cx="540.05" cy="550.40" r="3.9" fill="#CC0066"/>
<circle cx="553.74" cy="550.40" r="3.9" fill="#CC0066"/>
<circle cx="567.42" cy="550.40" r="3.9" fill="#CC0066"/>
<circle cx="581.11" cy="550.40" r="3.9" fill="#CC0066"/>
<circle cx="594.79" cy="557.91" r="3.9" fill="#CC0066"/>
<circle cx="608.47" cy="563.74" r="3.9" fill="#CC0066"/>
<circle cx="622.16" cy="556.24" r="3.9" fill="#CC0066"/>
<polyline points="416.88,550.40 430.57,550.40 444.25,550.40 457.94,550.40 471.62,550.40 485.31,550.40 499.00,550.40 512.68,550.40 526.37,550.40 540.05,550.40 553.74,550.40 567.42,550.40 581.11,550.40 594.79,550.40 608.47,550.40 622.16,550.40" fill="none" stroke="#FFFF00" stroke-width="2" stroke-linejoin="round" stroke-linecap="round"/>
<circle cx="416.88" cy="550.40" r="4.1" fill="#FFFF00"/>
<circle cx="430.57" cy="550.40" r="4.1" fill="#FFFF00"/>
<circle cx="444.25" cy="550.40" r="4.1" fill="#FFFF00"/>
<circle cx="457.94" cy="550.40" r="4.1" fill="#FFFF00"/>
<circle cx="471.62" cy="550.40" r="4.1" fill="#FFFF00"/>
<circle cx="485.31" cy="550.40" r="4.1" fill="#FFFF00"/>
<circle cx="499.00" cy="550.40" r="4.1" fill="#FFFF00"/>
<circle cx="512.68" cy="550.40" r="4.1" fill="#FFFF00"/>
<circle cx="526.37" cy="550.40" r="4.1" fill="#FFFF00"/>
<circle cx="540.05" cy="550.40" r="4.1" fill="#FFFF00"/>
<circle cx="553.74" cy="550.40" r="4.1" fill="#FFFF00"/>
<circle cx="567.42" cy="550.40" r="4.1" fill="#FFFF00"/>
<circle cx="581.11" cy="550.40" r="4.1" fill="#FFFF00"/>
<circle cx="594.79" cy="550.40" r="4.1" fill="#FFFF00"/>
<circle cx="608.47" cy="550.40" r="4.1" fill="#FFFF00"/>
<circle cx="622.16" cy="550.40" r="4.1" fill="#FFFF00"/>
<text x="391.80" y="639.30" text-anchor="end" class="t">0</text>
<text x="391.80" y="597.60" text-anchor="end" class="t">0.5</text>
<text x="391.80" y="555.90" text-anchor="end" class="t">1</text>
<text x="391.80" y="514.20" text-anchor="end" class="t">1.5</text>
<text x="391.80" y="472.50" text-anchor="end" class="t">2</text>
<text x="403.20" y="653.00" text-anchor="middle" class="t">60</text>
<text x="471.62" y="653.00" text-anchor="middle" class="t">65</text>
<text x="540.05" y="653.00" text-anchor="middle" class="t">70</text>
<text x="608.47" y="653.00" text-anchor="middle" class="t">75</text>
<text x="676.90" y="653.00" text-anchor="middle" class="t">80</text>
<text x="548.50" y="668.20" text-anchor="middle" class="ax">Row number</text>
<text transform="translate(372.40,556.90) rotate(-90)" x="0" y="0" text-anchor="middle" class="ax">Fc (MPa)</text>
<text x="525.50" y="687.70" text-anchor="middle" class="fl">(f)</text>
<line x1="495.00" y1="487.60" x2="522.80" y2="487.60" stroke="#CC0066" stroke-width="2.2" stroke-linecap="butt"/>
<circle cx="508.90" cy="487.60" r="3.9" fill="#CC0066"/>
<text x="526.00" y="491.00" text-anchor="start" class="lg">Ratio</text>
<line x1="574.00" y1="487.60" x2="602.20" y2="487.60" stroke="#FFFF00" stroke-width="2.2" stroke-linecap="butt"/>
<circle cx="587.70" cy="487.60" r="3.9" fill="#FFFF00"/>
<text x="604.80" y="491.00" text-anchor="start" class="lg">Normal</text>
</g>
</svg>
</body></html>
